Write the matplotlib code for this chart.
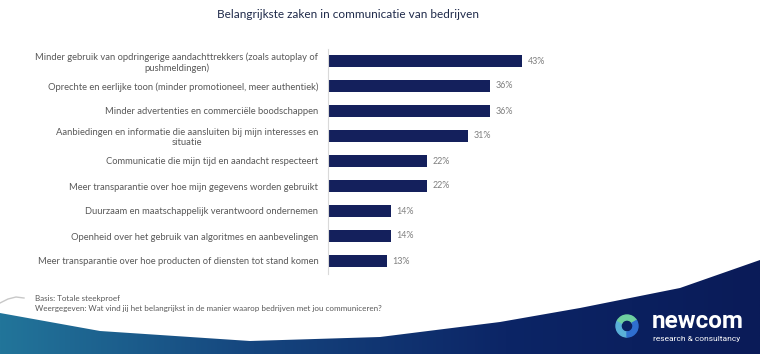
import numpy as np
import matplotlib.pyplot as plt
from matplotlib.patches import Polygon, Wedge
from matplotlib.colors import LinearSegmentedColormap

plt.rcParams['font.family'] = ['Lato', 'DejaVu Sans']

# Data (top to bottom as shown)
categories = [
    'Minder gebruik van opdringerige aandachttrekkers (zoals autoplay of\npushmeldingen)',
    'Oprechte en eerlijke toon (minder promotioneel, meer authentiek)',
    'Minder advertenties en commerciële boodschappen',
    'Aanbiedingen en informatie die aansluiten bij mijn interesses en\nsituatie',
    'Communicatie die mijn tijd en aandacht respecteert',
    'Meer transparantie over hoe mijn gegevens worden gebruikt',
    'Duurzaam en maatschappelijk verantwoord ondernemen',
    'Openheid over het gebruik van algoritmes en aanbevelingen',
    'Meer transparantie over hoe producten of diensten tot stand komen',
]
values = [43, 36, 36, 31, 22, 22, 14, 14, 13]

title = 'Belangrijkste zaken in communicatie van bedrijven'
note_basis = 'Basis: Totale steekproef'
note_question = ('Weergegeven: Wat vind jij het belangrijkst in de manier waarop '
                 'bedrijven met jou communiceren?')

W, H = 760, 354
fig = plt.figure(figsize=(W / 100, H / 100), dpi=100)
fig.patch.set_facecolor('white')

# background decoration in pixel coordinates
bg = fig.add_axes([0, 0, 1, 1], zorder=0)
bg.axis('off')

wave_x = [0, 100, 250, 380, 500, 580, 680, 760]
wave_y = [313, 331, 341, 337, 322, 308, 288, 260]
verts = list(zip(wave_x, wave_y)) + [(W, H), (0, H)]
poly = Polygon(verts, closed=True, facecolor='none', edgecolor='none')
bg.add_patch(poly)
cmap = LinearSegmentedColormap.from_list('wave', ['#22759a', '#15457e', '#0c2566', '#0a1b58'])
grad = np.linspace(0, 1, 256).reshape(1, -1)
im = bg.imshow(grad, cmap=cmap, extent=[0, W, H, 255], aspect='auto')
im.set_clip_path(poly)
bg.set_xlim(0, W)
bg.set_ylim(H, 0)

# thin grey swoosh at the left
sx = np.array([0, 8, 16, 24])
sy = np.array([303, 299, 297, 298])
bg.plot(sx, sy, color='#c8c8c8', lw=1.0)

# logo
bg.add_patch(Wedge((627, 326), 11, 90, 210, width=5, color='#5ab0d8'))
bg.add_patch(Wedge((627, 326), 11, 210, 330, width=5, color='#6fd0a0'))
bg.add_patch(Wedge((627, 326), 11, 330, 450, width=5, color='#2f6fd0'))
bg.text(652, 322, 'newcom', color='white', fontsize=17.5, fontweight='bold',
        va='center', ha='left', family=['Roboto', 'DejaVu Sans'])
bg.text(653, 339, 'research & consultancy', color='white', fontsize=6.0,
        va='center', ha='left', family=['Roboto', 'DejaVu Sans'])

# title and notes
bg.text(348, 15, title, ha='center', va='center', fontsize=8.5, color='#1f2a4a')
bg.text(35, 298, note_basis, ha='left', va='center', fontsize=5.8, color='#595959')
bg.text(35, 309, note_question, ha='left', va='center', fontsize=5.8, color='#595959')

# main bar chart
x0, px_per = 328, 4.51
ax_w = 50 * px_per
top, bot = 48.5, 273.5
ax = fig.add_axes([x0 / W, 1 - bot / H, ax_w / W, (bot - top) / H], zorder=1)
ax.patch.set_alpha(0)
y = np.arange(len(values))
bars = ax.barh(y, values, height=0.48, color='#14205c')
ax.set_xlim(0, 50)
ax.set_ylim(len(values) - 0.5, -0.5)
ax.set_yticks(y)
ax.set_yticklabels(categories, fontsize=6.75, color='#595959', multialignment='center')
ax.tick_params(axis='y', length=0, pad=7)
ax.set_xticks([])
for s in ['top', 'right', 'bottom']:
    ax.spines[s].set_visible(False)
ax.spines['left'].set_color('#d9d9d9')
ax.spines['left'].set_linewidth(0.8)
ax.bar_label(bars, labels=[f'{v}%' for v in values], padding=4,
             fontsize=6.4, color='#7f7f7f')

fig.savefig('out.png', dpi=100)
